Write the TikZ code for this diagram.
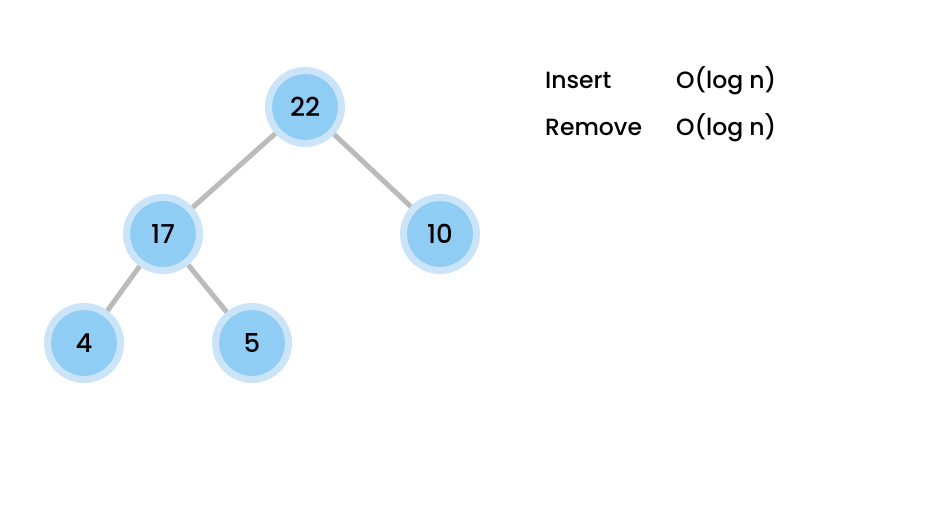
\documentclass[tikz,border=0pt]{standalone}
\usepackage{fontspec}
\setmainfont{Poppins}[UprightFont=* Medium]
\definecolor{ring}{HTML}{CCE4F8}
\definecolor{fillb}{HTML}{90CDF4}
\definecolor{edgec}{HTML}{BBBBBB}
\begin{document}
\begin{tikzpicture}[x=1pt,y=-1pt,
  heapnode/.style={circle,draw=ring,line width=7pt,fill=fillb,minimum size=73pt,inner sep=0pt,font=\fontsize{26}{30}\selectfont},
  edge/.style={draw=edgec,line width=5pt},
  lbl/.style={anchor=base west,inner sep=0pt,font=\fontsize{23.5}{28}\selectfont}]
\useasboundingbox (0,0) rectangle (946,532);
\node[heapnode] (n22) at (305,107) {22};
\node[heapnode] (n17) at (163,234) {17};
\node[heapnode] (n10) at (440,234) {10};
\node[heapnode] (n4) at (84,343) {4};
\node[heapnode] (n5) at (252,343) {5};
\path[edge] (n22) -- (n17);
\path[edge] (n22) -- (n10);
\path[edge] (n17) -- (n4);
\path[edge] (n17) -- (n5);
\node[lbl] (ins) at (545,89) {Insert};
\node[lbl] (insc) at (676,89) {O(log n)};
\node[lbl] (rem) at (545,136) {Remove};
\node[lbl] (remc) at (676,136) {O(log n)};
\end{tikzpicture}
\end{document}
